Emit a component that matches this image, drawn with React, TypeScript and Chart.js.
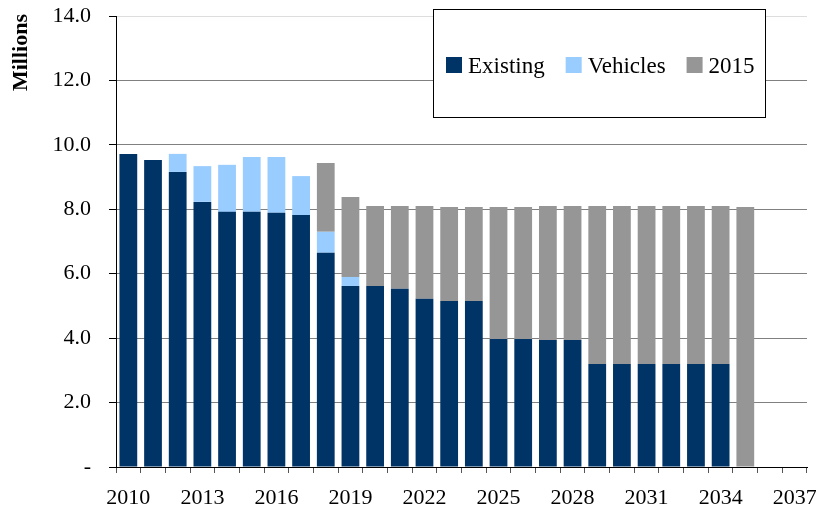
import React, { useEffect, useRef } from 'react';
import { Chart, registerables } from 'chart.js';

Chart.register(...registerables);

const years = [
  '2010', '2011', '2012', '2013', '2014', '2015', '2016', '2017', '2018', '2019',
  '2020', '2021', '2022', '2023', '2024', '2025', '2026', '2027', '2028', '2029',
  '2030', '2031', '2032', '2033', '2034', '2035', '2036', '2037',
];

const existing = [
  9.72, 9.53, 9.16, 8.23, 7.92, 7.92, 7.89, 7.82, 6.65, 5.62,
  5.62, 5.53, 5.22, 5.15, 5.15, 3.97, 3.97, 3.94, 3.94, 3.2,
  3.2, 3.2, 3.2, 3.2, 3.2, 0, null, null,
];

const vehicles = [
  0, 0, 0.56, 1.11, 1.46, 1.7, 1.73, 1.21, 0.65, 0.28,
  0, 0, 0, 0, 0, 0, 0, 0, 0, 0,
  0, 0, 0, 0, 0, 0, null, null,
];

const added2015 = [
  0, 0, 0, 0, 0, 0, 0, 0, 2.14, 2.48,
  2.48, 2.57, 2.88, 2.92, 2.92, 4.1, 4.1, 4.16, 4.16, 4.9,
  4.9, 4.9, 4.9, 4.9, 4.9, 8.07, null, null,
];

const seriesLabels = ['Existing', 'Vehicles', '2015'];
const seriesColors = ['#003366', '#99CCFF', '#969696'];
const yAxisTitle = 'Millions';

const FONT = '"Liberation Serif", "Times New Roman", serif';

const extrasPlugin = {
  id: 'extras',
  afterDraw(chart: any) {
    const ctx = chart.ctx;
    ctx.save();
    // y-axis title
    ctx.font = `bold 22px ${FONT}`;
    ctx.fillStyle = '#000';
    ctx.translate(21, 14);
    ctx.rotate(-Math.PI / 2);
    ctx.textAlign = 'right';
    ctx.textBaseline = 'middle';
    ctx.fillText(yAxisTitle, 0, 0);
    ctx.restore();

    // legend box
    ctx.save();
    ctx.font = `23px ${FONT}`;
    const box = { x: 433, y: 9, w: 332, h: 108 };
    ctx.fillStyle = '#fff';
    ctx.fillRect(box.x, box.y, box.w, box.h);
    ctx.strokeStyle = '#000';
    ctx.lineWidth = 1;
    ctx.strokeRect(box.x + 0.5, box.y + 0.5, box.w, box.h);
    let x = box.x + 13;
    const cy = box.y + 56;
    chart.data.datasets.forEach((d: any) => {
      ctx.fillStyle = d.backgroundColor;
      ctx.fillRect(x, cy - 8, 16, 16);
      x += 22;
      ctx.fillStyle = '#000';
      ctx.textAlign = 'left';
      ctx.textBaseline = 'alphabetic';
      ctx.fillText(d.label, x, cy + 8);
      x += ctx.measureText(d.label).width + 21;
    });
    ctx.restore();
  },
};

export default function App() {
  const ref = useRef<HTMLCanvasElement>(null);

  useEffect(() => {
    if (!ref.current) return;
    const seriesData = [existing, vehicles, added2015];
    const chart = new Chart(ref.current, {
      type: 'bar',
      data: {
        labels: years,
        datasets: seriesData.map((data, i) => ({
          label: seriesLabels[i],
          data: data as any,
          backgroundColor: seriesColors[i],
          borderWidth: 0,
          barPercentage: 0.72,
          categoryPercentage: 1,
        })),
      },
      options: {
        animation: false,
        responsive: false,
        layout: { padding: { left: 0, right: 9, top: 16, bottom: 0 } },
        plugins: { legend: { display: false }, tooltip: { enabled: false } },
        scales: {
          x: {
            stacked: true,
            offset: true,
            grid: { offset: true, drawOnChartArea: false, tickLength: 6, tickColor: '#555' },
            border: { color: '#000' },
            ticks: {
              autoSkip: false,
              maxRotation: 0,
              minRotation: 0,
              padding: 12,
              color: '#000',
              font: { family: FONT, size: 22 },
              callback: (_v: any, i: number) => (i % 3 === 0 ? years[i] : ''),
            },
            afterFit: (s: any) => {
              s.height = 43;
              s.paddingLeft = 0;
              s.paddingRight = 0;
            },
          },
          y: {
            stacked: true,
            min: 0,
            max: 14,
            ticks: {
              stepSize: 2,
              padding: 18,
              color: '#000',
              font: { family: FONT, size: 22 },
              callback: (v: any) => (Number(v) === 0 ? '-' : Number(v).toFixed(1)),
            },
            grid: {
              color: (c: any) => (c.tick && c.tick.value === 14 ? '#dddddd' : '#808080'),
              tickColor: '#000',
              tickLength: 7,
            },
            border: { color: '#000' },
            afterFit: (s: any) => {
              s.width = 116;
              s.paddingTop = 0;
              s.paddingBottom = 0;
            },
          },
        },
      },
      plugins: [extrasPlugin],
    });
    return () => chart.destroy();
  }, []);

  return (
    <div style={{ position: 'absolute', left: 0, top: 0, width: 816, height: 510, background: '#fff' }}>
      <canvas ref={ref} width={816} height={510} />
    </div>
  );
}
